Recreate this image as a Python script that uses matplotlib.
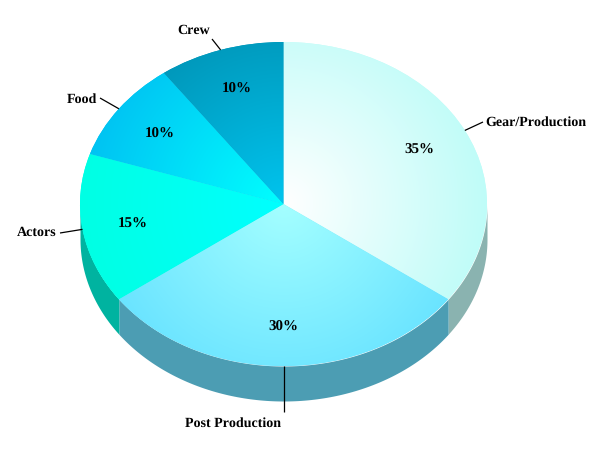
import numpy as np
import matplotlib
matplotlib.use("Agg")
import matplotlib.pyplot as plt
from matplotlib.colors import LinearSegmentedColormap

categories = ["Gear/Production", "Post Production", "Actors", "Food", "Crew"]
values = [35, 30, 15, 10, 10]
inner_colors = ["#ffffff", "#a4ffff", "#00ffff", "#00ffff", "#00c4ee"]
outer_colors = ["#bffcf8", "#66e2ff", "#00ffe4", "#00c2f2", "#0092b4"]
side_colors = ["#8ab3b0", "#4c9db3", "#00b3a0", "#0088aa", "#006680"]
label_px = [(485, 122), (233, 423), (57, 232), (97, 99), (210, 30)]
label_ha = ["left", "center", "right", "right", "right"]
leader_end_px = [(483, 122), (283.5, 412), (60, 233), (100, 98), (212, 39)]

W, H = 600, 463
CX, CY, RX, RY, DEPTH = 283.5, 204.0, 203.5, 162.0, 35.0

plt.rcParams["font.family"] = ["Liberation Serif", "DejaVu Serif"]
plt.rcParams["font.weight"] = "bold"
plt.rcParams["font.size"] = 10
plt.rcParams["text.hinting"] = "no_hinting"
plt.rcParams["text.hinting_factor"] = 1


def px(x, y):
    return (x - CX) / RX, (CY - y) / RY


fig = plt.figure(figsize=(W / 100, H / 100), dpi=100, facecolor="white")
ax = fig.add_axes([0, 0, 1, 1])

wedges, _, autotexts = ax.pie(
    values, startangle=90, counterclock=False, radius=1,
    colors=outer_colors, autopct="%.0f%%", pctdistance=0.75,
    wedgeprops={"linewidth": 0},
)
for t in autotexts:
    t.set_color("black")
    t.set_fontweight("bold")
    t.set_zorder(6)
    t.set_fontsize(10.8)
    tx, ty = t.get_position()
    t.set_position((tx, ty - 1.2 / RY))

# viewing limits: one pie radius maps to RX / RY pixels
ax.set_aspect("auto")
x0, y1 = px(0, 0)
x1, y0 = px(W, H)

# side wall, visible for the front half of the rim
depth_u = DEPTH / RY
edges = np.concatenate([[0], np.cumsum(values)]) / np.sum(values) * 360.0
for i in range(len(values)):
    a = max(edges[i], 90.0)
    b = min(edges[i + 1], 270.0)
    if b <= a:
        continue
    th = np.radians(np.linspace(a, b, 120))
    xs = np.sin(th)
    ys = np.cos(th)
    ax.fill_between(xs, ys - depth_u, ys, color=side_colors[i], lw=0, zorder=1)

# radial shading of each top slice: round in pixel space, not in the ellipse
grid_x = np.linspace(-1.02, 1.02, 600)
grid_y = np.linspace(-1.02, 1.02, 600)
gx, gy = np.meshgrid(grid_x, grid_y)
rr = np.clip(np.hypot(gx, gy * RY / RX), 0, 1)
for i, w in enumerate(wedges):
    w.set_zorder(2)
    cmap = LinearSegmentedColormap.from_list(f"s{i}", [inner_colors[i], outer_colors[i]])
    im = ax.imshow(rr, cmap=cmap, vmin=0, vmax=1, origin="lower", aspect="auto",
                   extent=(-1.02, 1.02, -1.02, 1.02), zorder=3, interpolation="bilinear")
    im.set_clip_path(w)

# leader lines and labels
for i, name in enumerate(categories):
    mid = np.radians((edges[i] + edges[i + 1]) / 2)
    sx, sy = np.sin(mid), np.cos(mid)
    ex, ey = px(*leader_end_px[i])
    ax.plot([sx, ex], [sy, ey], color="black", lw=0.9, zorder=5, solid_capstyle="butt")
    lx, ly = px(*label_px[i])
    ax.text(lx, ly, name, ha=label_ha[i], va="center", color="black",
            fontweight="bold", fontsize=10, zorder=6)

ax.set_xlim(x0, x1)
ax.set_ylim(y0, y1)
ax.set_axis_off()
fig.savefig("out.png", dpi=100, facecolor="white")
